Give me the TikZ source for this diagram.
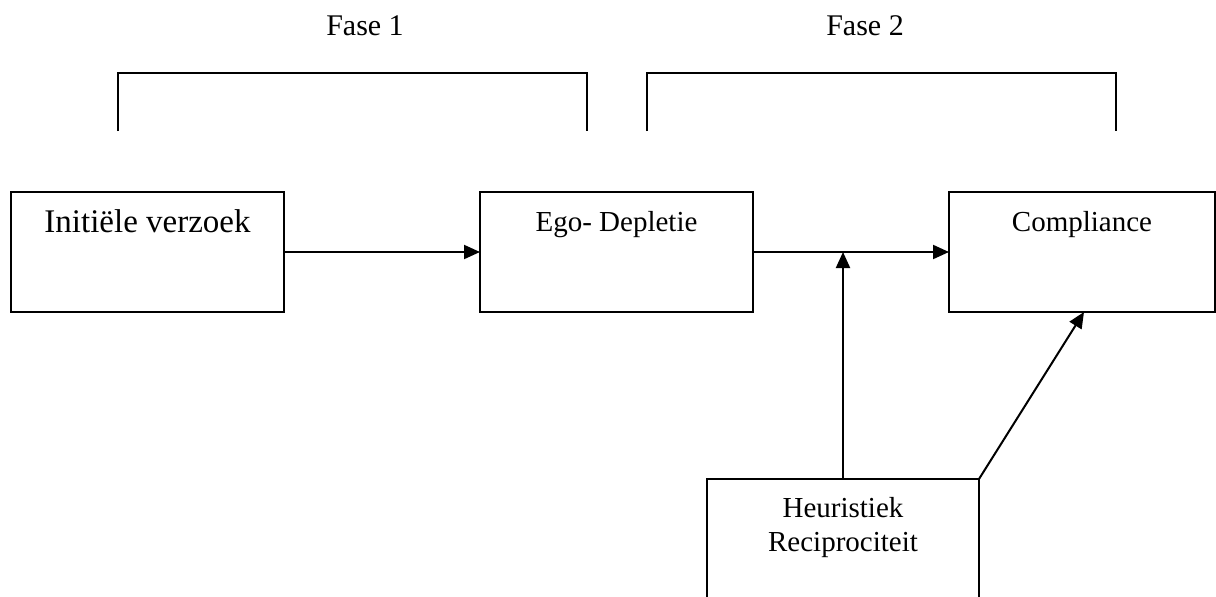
\documentclass[tikz,border=0pt]{standalone}
\usepackage{fontspec}
\setmainfont{Liberation Serif}
\usetikzlibrary{arrows.meta}
\begin{document}
\begin{tikzpicture}[x=1pt,y=-1pt,
  line width=2pt,
  boxnode/.style={draw=black, line width=2.2pt, rectangle, outer sep=0pt, inner xsep=0pt, inner ysep=0pt,
    anchor=north west, minimum height=120pt, font=\fontsize{29}{34}\selectfont},
  fasetext/.style={anchor=base, inner sep=0pt, font=\fontsize{30}{34}\selectfont},
  bracketline/.style={draw=black, line width=2pt},
  conn/.style={draw=black, line width=2pt, -{Triangle[length=16pt,width=14pt]}}
]
\useasboundingbox (0,0) rectangle (1216,597);
\clip (0,0) rectangle (1216,597);

% phase labels
\node[fasetext] (fase1) at (365,35) {Fase 1};
\node[fasetext] (fase2) at (865,35) {Fase 2};

% brackets
\draw[bracketline] (118,131) -- (118,73) -- (587,73) -- (587,131);
\draw[bracketline] (647,131) -- (647,73) -- (1116,73) -- (1116,131);

% boxes
\node[boxnode, minimum width=273pt, text height=40pt, text depth=80pt,
      font=\fontsize{33}{38}\selectfont] (init) at (11,192) {Initiële verzoek};
\node[boxnode, minimum width=273pt, text height=39pt, text depth=81pt] (ego) at (480,192) {Ego- Depletie};
\node[boxnode, minimum width=266pt, text height=39pt, text depth=81pt] (compl) at (949,192) {Compliance};
\node[boxnode, minimum width=272pt, minimum height=140pt, text height=38pt, text depth=102pt] (heur) at (707,479)
  {\begin{tabular}[t]{@{}c@{}}Heuristiek\\Reciprociteit\end{tabular}};

% connectors
\draw[conn] (init.east) -- (ego.west);
\draw[conn] (ego.east) -- (compl.west);
\draw[conn] (heur.north) -- (heur.north |- ego.east);
\draw[conn] (heur.north east) -- ([xshift=2pt]compl.south);
\end{tikzpicture}
\end{document}
